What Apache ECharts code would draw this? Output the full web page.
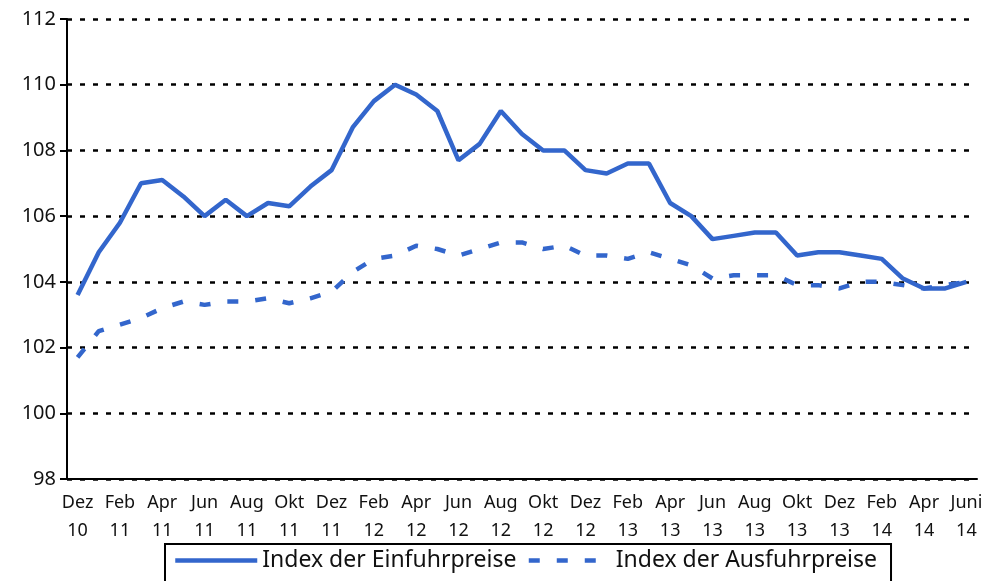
<!DOCTYPE html>
<html>
  <head>
    <meta charset="utf-8" />
    <script src="https://cdn.jsdelivr.net/npm/echarts@6.0.0/dist/echarts.min.js"></script>
  </head>
  <body style="margin:0">
    <div id="main" style="width: 989px;height:581px;"></div>
    <script type="text/javascript">
      // Monate Dez 10 bis Juni 14, Beschriftung zweizeilig
      var months = ['Dez', 'Jan', 'Feb', 'Mär', 'Apr', 'Mai', 'Jun', 'Jul', 'Aug', 'Sep', 'Okt', 'Nov'];
      var categories = [];
      for (var y = 10; y <= 14; y++) {
        for (var m = 0; m < 12; m++) {
          var yr = m === 0 ? y : y + 1;
          if (yr > 14) continue;
          categories.push(months[m] + '\n' + yr);
        }
      }
      categories = categories.slice(0, 43);
      categories[42] = 'Juni\n14';

      var einfuhr = [103.6, 104.9, 105.8, 107.0, 107.1, 106.6, 106.0, 106.5, 106.0, 106.4,
        106.3, 106.9, 107.4, 108.7, 109.5, 110.0, 109.7, 109.2, 107.7, 108.2,
        109.2, 108.5, 108.0, 108.0, 107.4, 107.3, 107.6, 107.6, 106.4, 106.0,
        105.3, 105.4, 105.5, 105.5, 104.8, 104.9, 104.9, 104.8, 104.7, 104.1,
        103.8, 103.8, 104.0];
      var ausfuhr = [101.7, 102.5, 102.7, 102.9, 103.2, 103.4, 103.3, 103.4, 103.4, 103.5,
        103.35, 103.5, 103.7, 104.3, 104.7, 104.8, 105.1, 105.0, 104.8, 105.0,
        105.2, 105.2, 105.0, 105.1, 104.8, 104.8, 104.7, 104.9, 104.7, 104.5,
        104.1, 104.2, 104.2, 104.2, 103.9, 103.9, 103.8, 104.0, 104.0, 103.9,
        103.8, 103.9, 104.0];

      var myChart = echarts.init(document.getElementById('main'));
      var blue = '#3366cc';
      var font = 'Noto Sans';

      option = {
        animation: false,
        grid: { left: 67, right: 12, top: 19, bottom: 102 },
        legend: {
          left: 165,
          top: 544,
          padding: [5, 14, 20, 8],
          borderColor: '#000',
          borderWidth: 2,
          itemWidth: 82,
          itemHeight: 14,
          itemGap: 10,
          itemStyle: { opacity: 0 },
          lineStyle: { width: 4.5 },
          textStyle: { fontFamily: font, fontSize: 23, color: '#111' },
          data: ['Index der Einfuhrpreise', 'Index der Ausfuhrpreise']
        },
        xAxis: {
          type: 'category',
          data: categories,
          axisLine: { lineStyle: { color: '#000', width: 2 } },
          axisTick: { interval: 0, length: 7, lineStyle: { color: '#000', width: 2 } },
          axisLabel: {
            interval: 1,
            fontFamily: font,
            fontSize: 18,
            lineHeight: 28,
            color: '#111',
            margin: 10
          }
        },
        yAxis: {
          type: 'value',
          min: 98,
          max: 112,
          interval: 2,
          axisLine: { show: true, lineStyle: { color: '#000', width: 2 } },
          axisTick: { show: true, length: 7, lineStyle: { color: '#000', width: 2 } },
          axisLabel: { fontFamily: font, fontSize: 20, color: '#111', margin: 11 },
          splitLine: { lineStyle: { color: '#000', width: 2.5, type: [5, 8] } }
        },
        series: [
          {
            name: 'Index der Einfuhrpreise',
            type: 'line',
            data: einfuhr,
            symbol: 'none',
            lineStyle: { color: blue, width: 4.5 },
            itemStyle: { color: blue }
          },
          {
            name: 'Index der Ausfuhrpreise',
            type: 'line',
            data: ausfuhr,
            symbol: 'none',
            lineStyle: { color: blue, width: 4.5, type: [11, 17] },
            itemStyle: { color: blue }
          }
        ]
      };

      myChart.setOption(option);
    </script>
  </body>
</html>
